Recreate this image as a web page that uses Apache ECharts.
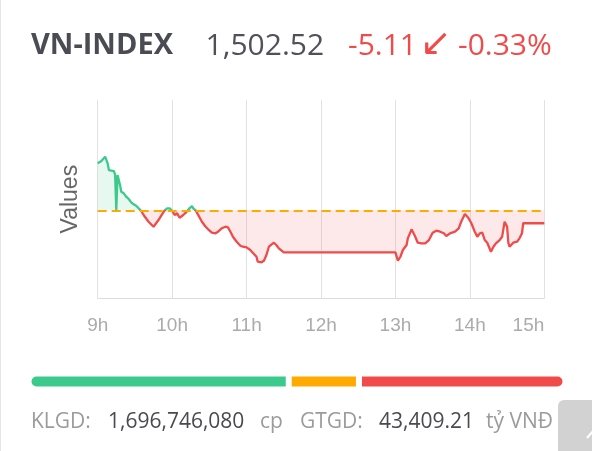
<!DOCTYPE html>
<html>
<head>
<meta charset="utf-8">
<script src="https://cdn.jsdelivr.net/npm/echarts@6/dist/echarts.min.js"></script>
<style>
html,body{margin:0;padding:0;background:#fff;}
#chart{width:592px;height:451px;}
</style>
</head>
<body>
<div id="chart"></div>
<script>
// ---- data ----
const indexName = 'VN-INDEX';
const lastPrice = 1502.52;
const refPrice = 1507.63;
const change = '-5.11';
const changePct = '-0.33%';
const volumeText = '1,696,746,080';
const valueText = '43,409.21';

const times = [
 '09:00','09:03','09:06','09:07','09:08','09:09','09:13','09:14','09:15','09:16','09:17','09:18','09:19','09:21','09:23','09:25','09:27','09:29','09:31','09:33','09:35',
 '09:37','09:41','09:45','09:49','09:52','09:54','09:56','09:58','10:00','10:02','10:04','10:06','10:09','10:11','10:14','10:16','10:17','10:19',
 '10:24','10:27','10:29','10:32','10:35','10:37','10:40','10:43','10:45','10:47','10:49','10:52','10:55','10:57','11:00','11:03','11:05','11:08','11:09','11:12','11:14','11:16','11:18','11:22','11:24','11:26','11:30',
 '13:00','13:02','13:04','13:06','13:09','13:10','13:13','13:16','13:18','13:21','13:24','13:27','13:30','13:33','13:36','13:39','13:41','13:44','13:48','13:51','13:53','13:56','13:59',
 '14:01','14:04','14:06','14:08','14:10','14:12','14:14','14:17','14:19','14:21','14:24','14:26','14:28','14:30','14:31','14:32','14:35','14:38','14:40','14:42','14:43','15:00'
];
const values = [
 1526.10,1527.00,1528.69,1528.07,1526.10,1523.46,1523.07,1521.77,1507.70,1521.50,1519.53,1517.56,1514.93,1514.30,1512.96,1512.05,1510.75,1509.97,1509.42,1508.39,1507.45,
 1505.76,1503.12,1501.16,1503.79,1506.15,1507.60,1508.40,1508.40,1507.45,1505.76,1506.43,1504.70,1505.76,1506.67,1508.39,1509.30,1508.39,1507.60,
 1503.12,1501.16,1500.14,1498.80,1498.56,1499.19,1500.53,1501.16,1500.92,1499.19,1497.22,1495.26,1493.68,1493.29,1493.05,1491.99,1490.93,1489.35,1487.39,1487.15,1487.78,1490.02,1493.29,1494.86,1493.96,1492.66,1491.08,
 1491.08,1487.78,1489.35,1491.99,1493.96,1496.59,1500.13,1497.22,1494.86,1494.63,1494.63,1495.92,1498.80,1499.58,1499.19,1498.56,1497.50,1498.56,1499.19,1500.53,1503.12,1506.15,1504.46,
 1502.73,1499.19,1497.22,1498.56,1498.80,1495.92,1494.86,1491.32,1493.29,1494.63,1495.92,1497.22,1503.12,1501.20,1494.86,1493.29,1494.86,1495.26,1496.59,1498.56,1502.52,1502.52
];
const hourTicks = ['9h','10h','11h','12h','13h','14h','15h'];
// market breadth: advancing, unchanged, declining
const breadthNames = ['Tăng','Đứng giá','Giảm'];
const breadth = [189, 51, 150];

// ---- build ----
const GREEN = '#3cca8c', RED = '#f04a4a', ORANGE = '#ffaa00';
function toMin(t){ const p = t.split(':'); return (+p[0]-9)*60 + (+p[1]); }
const lineData = times.map((t,i)=>[toMin(t), values[i]]);
const breadthColors = [GREEN, ORANGE, RED];
const breadthTotal = breadth.reduce((a,b)=>a+b,0);

const chart = echarts.init(document.getElementById('chart'), null, {renderer:'canvas'});
const FONT = '"Open Sans", "Noto Sans", sans-serif';
const txt = (x,y,text,size,color,weight,family)=>({
  type:'text', x:x, y:y, z:10,
  style:{text:text, fontSize:size, fontWeight:weight||'normal', fontFamily:family||FONT, fill:color, verticalAlign:'middle', align:'left'}
});

chart.setOption({
  animation:false,
  grid:[
    {left:97.7, right:47.7, top:100, bottom:152.7},
    {left:28.5, right:26.5, top:373.5, height:16}
  ],
  xAxis:[
    {type:'value', gridIndex:0, min:0, max:360, interval:60,
     axisLine:{show:true, lineStyle:{color:'#dddddd', width:1}},
     axisTick:{show:false},
     splitLine:{show:true, lineStyle:{color:'#e2e2e2', width:1}},
     axisLabel:{formatter:(v)=>hourTicks[v/60], color:'#ababab', fontSize:19, fontFamily:'"Liberation Sans", Arial, sans-serif', margin:18, alignMaxLabel:'right'}
    },
    {type:'value', gridIndex:1, min:0, max:breadthTotal, show:false}
  ],
  yAxis:[
    {type:'value', gridIndex:0, min:1473, max:1551,
     axisLabel:{show:false}, axisTick:{show:false}, axisLine:{show:false}, splitLine:{show:false},
     name:'Values', nameLocation:'middle', nameRotate:90, nameGap:16,
     nameTextStyle:{fontSize:23, color:'#666666', fontFamily:'"Liberation Sans", Arial, sans-serif'}
    },
    {type:'category', gridIndex:1, data:['breadth'], show:false}
  ],
  visualMap:{
    type:'piecewise', show:false, seriesIndex:0, dimension:1,
    pieces:[{gt:1400, lt:refPrice, color:RED},{gte:refPrice, lte:1700, color:GREEN}]
  },
  series:[
    {type:'line', xAxisIndex:0, yAxisIndex:0, data:lineData, showSymbol:false, symbol:'none',
     lineStyle:{width:2.3},
     areaStyle:{origin:refPrice, opacity:0.12},
     markLine:{silent:true, symbol:['none','none'], label:{show:false},
       lineStyle:{color:ORANGE, type:[9,5], width:2},
       data:[{yAxis:refPrice}]},
     z:3
    }
  ].concat(breadth.map((v,i)=>({
     type:'bar', name:breadthNames[i], xAxisIndex:1, yAxisIndex:1, stack:'b', data:[v], barWidth:16,
     itemStyle:{color:breadthColors[i], borderColor:'#ffffff', borderWidth:3,
       borderRadius: i===0?[8,0,0,8]:(i===breadth.length-1?[0,8,8,0]:0)}
  }))),
  graphic:[
    {type:'line', shape:{x1:0.5,y1:0,x2:0.5,y2:451}, style:{stroke:'#e6e6e6', lineWidth:1}},
    txt(31, 46, indexName, 29, '#4b4b53', 'bold'),
    txt(205.5, 46, lastPrice.toLocaleString('en-US',{minimumFractionDigits:2}), 30, '#505058'),
    txt(348, 46, change, 30, RED),
    txt(420, 45, '↙', 38, RED, 'normal', '"DejaVu Sans", sans-serif'),
    txt(458, 46, changePct, 30, RED),
    txt(31, 422, 'KLGD:', 21, '#9b9b9b'),
    txt(108, 422, volumeText, 21, '#4a4a4f'),
    txt(260, 422, 'cp', 21, '#9b9b9b'),
    txt(300, 422, 'GTGD:', 21, '#9b9b9b'),
    txt(379, 422, valueText, 21, '#4a4a4f'),
    txt(486, 422, 'tỷ VNĐ', 21, '#9b9b9b'),
    {type:'rect', z:20, shape:{x:558, y:400, width:40, height:60, r:[6,0,0,0]}, style:{fill:'#d2d2d2'}},
    {type:'line', z:21, shape:{x1:587, y1:438, x2:593, y2:431}, style:{stroke:'#ffffff', lineWidth:2}}
  ]
});
</script>
</body>
</html>
